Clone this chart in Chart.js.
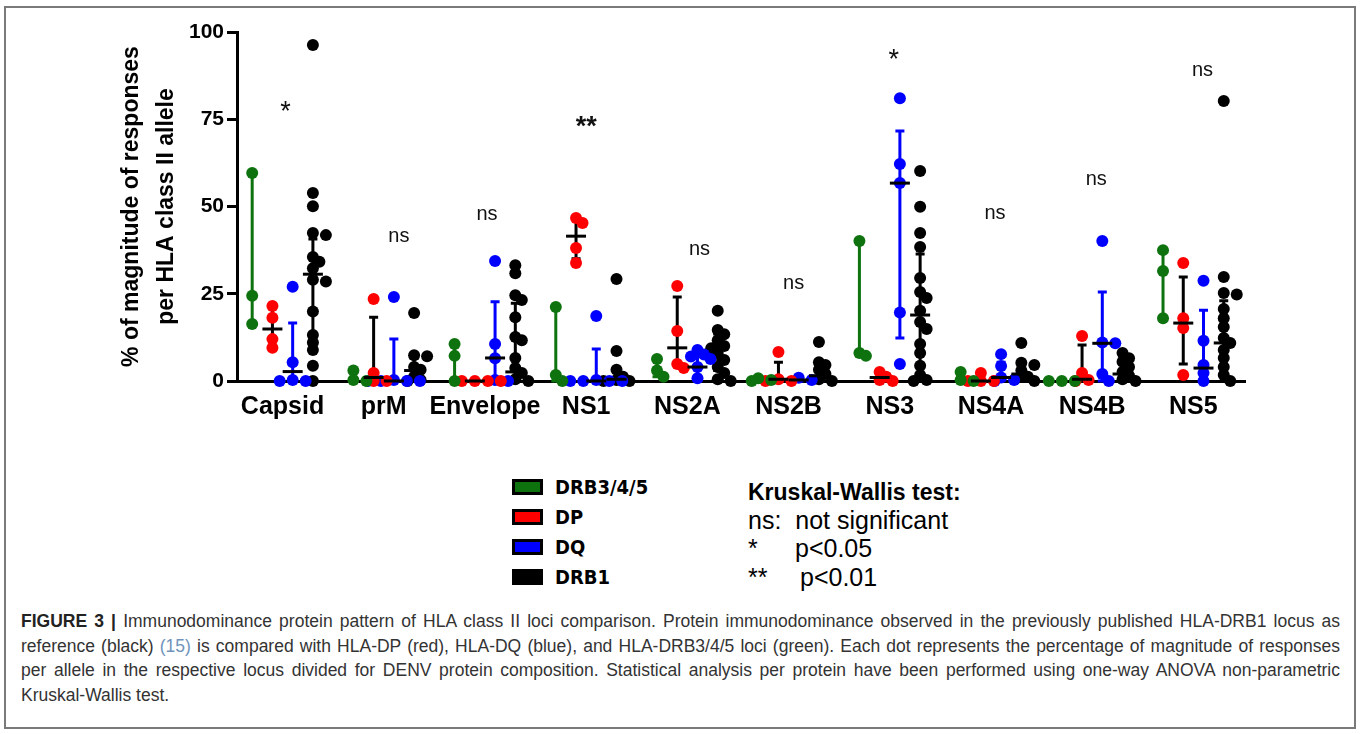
<!DOCTYPE html>
<html>
<head>
<meta charset="utf-8">
<script src="https://cdn.jsdelivr.net/npm/chart.js@4"></script>
<style>
  body { margin: 0; background: #fff; font-family: 'Liberation Sans', Arial, sans-serif; }
  #page { position: relative; width: 1360px; height: 734px; overflow: hidden; }
  #frame { position: absolute; left: 4px; top: 6px; width: 1352px; height: 723px; border: 2px solid #7a7a7a; box-sizing: border-box; }
  #c { position: absolute; left: 0; top: 0; }
  .lg { position: absolute; left: 512px; width: 31px; height: 16px; border: 3px solid #000; box-sizing: border-box; }
  .lgt { position: absolute; left: 555px; font-family: 'Liberation Sans Narrow', 'DejaVu Sans Condensed', sans-serif; font-weight: bold; font-size: 20px; line-height: 28px; color: #000; }
  .kw { position: absolute; left: 748px; font-size: 25px; line-height: 28px; color: #000; white-space: pre; }
  #cap { position: absolute; left: 21px; top: 609px; width: 1319px; font-size: 17.5px; line-height: 24.5px; color: #333; }
  #cap div { white-space: nowrap; text-align: justify; text-align-last: justify; }
  #cap div.last { text-align-last: left; }
</style>
</head>
<body>
<div id="page">
  <div id="frame"></div>
  <canvas id="c" width="1360" height="440"></canvas>

  <div class="lg" style="top:479px;background:#0e730e"></div>
  <div class="lgt" style="top:473px">DRB3/4/5</div>
  <div class="lg" style="top:509px;background:#ff0000"></div>
  <div class="lgt" style="top:503px">DP</div>
  <div class="lg" style="top:539px;background:#0000ff"></div>
  <div class="lgt" style="top:533px">DQ</div>
  <div class="lg" style="top:569px;background:#000"></div>
  <div class="lgt" style="top:563px">DRB1</div>

  <div class="kw" style="top:478px;font-weight:bold;font-size:23px">Kruskal-Wallis test:</div>
  <div class="kw" style="top:506px">ns:  not significant</div>
  <div class="kw" style="top:534px">*</div>
  <div class="kw" style="top:534px;left:795px">p&lt;0.05</div>
  <div class="kw" style="top:563px">**</div>
  <div class="kw" style="top:563px;left:800px">p&lt;0.01</div>

  <div id="cap">
    <div><b style="color:#222">FIGURE 3 |</b> Immunodominance protein pattern of HLA class II loci comparison. Protein immunodominance observed in the previously published HLA-DRB1 locus as</div>
    <div>reference (black) <span style="color:#6f93bb">(15)</span> is compared with HLA-DP (red), HLA-DQ (blue), and HLA-DRB3/4/5 loci (green). Each dot represents the percentage of magnitude of responses</div>
    <div>per allele in the respective locus divided for DENV protein composition. Statistical analysis per protein have been performed using one-way ANOVA non-parametric</div>
    <div class="last">Kruskal-Wallis test.</div>
  </div>
</div>
<script>
// categories and axis
const proteins = ['Capsid', 'prM', 'Envelope', 'NS1', 'NS2A', 'NS2B', 'NS3', 'NS4A', 'NS4B', 'NS5'];
const yTicks = [0, 25, 50, 75, 100];
const yTitle = ['% of magnitude of responses', 'per HLA class II allele'];

// % magnitude per allele, one list per protein
const drb345 = [[59.6, 24.4, 16.3], [3.0, 0.3, 0], [10.6, 7.2, 0], [21.2, 1.7, 0], [6.3, 3.0, 1.2],
  [0.8, 0.3, 0], [40.1, 8.0, 7.2], [2.6, 0.3, 0], [0, 0, 0], [37.5, 31.5, 18.0]];
const dp = [[21.5, 18.1, 12.0, 9.5], [23.5, 2.3, 0, 0], [0, 0, 0, 0], [46.7, 45.3, 38.1, 33.8], [27.2, 14.3, 4.9, 3.7],
  [8.3, 0.5, 0, 0], [2.6, 1.2, 0.3, 0], [2.3, 0, 0, 0], [12.9, 2.3, 0.3, 0], [33.8, 18.0, 15.2, 1.7]];
const dq = [[27.0, 5.4, 0.3, 0, 0], [24.1, 0.3, 0, 0, 0, 0], [34.4, 10.6, 6.5, 0.3, 0], [18.6, 0.3, 0, 0, 0, 0],
  [8.9, 7.6, 7.0, 6.3, 4.0, 0.8], [0.9, 0.3], [81.0, 62.2, 56.7, 19.6, 4.9], [7.7, 4.3, 1.0, 0.3, 0],
  [40.1, 11.0, 10.8, 2.0, 0], [28.7, 11.5, 4.6, 2.3, 0]];
const drb1 = [[96.3, 53.9, 50.1, 42.4, 41.8, 35.5, 34.2, 32.3, 29.0, 28.5, 19.9, 13.2, 11.0, 8.9, 4.4, 0],
  [19.5, 7.4, 7.1, 4.0, 3.2, 1.2, 0.3, 0],
  [33.2, 30.9, 24.6, 23.2, 18.3, 12.6, 11.7, 6.6, 3.7, 2.3, 0.5, 0],
  [29.2, 8.6, 3.2, 1.2, 0.3, 0, 0],
  [20.1, 14.6, 13.4, 11.7, 10.0, 9.4, 8.0, 6.0, 4.0, 2.3, 0.5, 0],
  [11.2, 5.4, 4.6, 3.2, 2.0, 0.5, 0],
  [60.2, 49.9, 42.4, 38.4, 29.5, 25.5, 23.8, 20.1, 16.9, 14.9, 10.6, 8.0, 4.4, 1.7, 0.3, 0],
  [10.9, 5.2, 4.6, 3.0, 1.2, 0.5, 0],
  [8.0, 6.5, 5.5, 4.0, 2.6, 1.5, 0.5, 0],
  [80.2, 29.8, 25.2, 24.8, 20.6, 18.0, 15.5, 12.3, 10.9, 8.9, 6.6, 4.0, 1.7, 0]];

// median with interquartile range, per protein
const drb345Med = [24.4, 0.3, 7.2, 1.7, 3.0, 0.3, 8.0, 0.3, 0, 31.5];
const drb345Q1 = [16.3, 0, 0, 0, 1.2, 0, 7.2, 0, 0, 18.0];
const drb345Q3 = [59.6, 3.0, 10.6, 21.2, 6.3, 0.8, 40.1, 2.6, 0, 37.5];
const dpMed = [14.9, 1.0, 0, 41.5, 9.5, 0.5, 1.0, 0, 0.5, 16.6];
const dpQ1 = [9.7, 0, 0, 35.0, 4.9, 0, 0, 0, 0, 4.9];
const dpQ3 = [20.9, 18.3, 0, 46.4, 24.1, 5.4, 2.3, 1.5, 10.3, 29.8];
const dqMed = [2.7, 0, 6.6, 0, 4.0, 0.3, 56.7, 1.0, 10.8, 3.7];
const dqQ1 = [0, 0, 0.3, 0, 1.0, 0, 12.3, 0.2, 0, 1.0];
const dqQ3 = [16.6, 12.0, 22.7, 9.2, 7.5, 0.9, 71.6, 5.4, 25.5, 20.3];
const drb1Med = [30.6, 3.0, 2.6, 0.5, 9.5, 1.5, 18.9, 2.0, 2.0, 10.9];
const drb1Q1 = [9.8, 0.5, 0.5, 0, 3.0, 0.2, 1.0, 0.3, 0.3, 2.0];
const drb1Q3 = [40.7, 6.5, 22.3, 2.5, 13.5, 4.5, 36.4, 4.6, 5.5, 23.0];

// Kruskal-Wallis labels
const sigText = ['*', 'ns', 'ns', '**', 'ns', 'ns', '*', 'ns', 'ns', 'ns'];
const sigX = [0.03, 1.15, 2.02, 3.0, 4.12, 5.05, 6.04, 7.04, 8.04, 9.09];
const sigY = [78.5, 41.3, 47.6, 74.2, 37.8, 27.8, 93.4, 47.9, 57.6, 89.1];

const loci = [
  {name: 'DRB3/4/5', vals: drb345, med: drb345Med, q1: drb345Q1, q3: drb345Q3, color: '#0e730e', bar: '#0e730e', mline: null, off: -0.3},
  {name: 'DP', vals: dp, med: dpMed, q1: dpQ1, q3: dpQ3, color: '#ff0000', bar: '#000', mline: '#000', off: -0.1},
  {name: 'DQ', vals: dq, med: dqMed, q1: dqQ1, q3: dqQ3, color: '#0000ff', bar: '#0000ff', mline: '#000', off: 0.1},
  {name: 'DRB1', vals: drb1, med: drb1Med, q1: drb1Q1, q3: drb1Q3, color: '#000', bar: '#000', mline: '#000', off: 0.3},
];

// simple beeswarm so overlapping dots spread sideways
const PX_X = 101.2, PX_Y = 3.49, MIN_D = 7, STEP = 6.5;
function swarm(vals, center) {
  const placed = [];
  [...vals].sort((a, b) => b - a).forEach(v => {
    for (let k = 0; k < 20; k++) {
      const o = (k % 2 ? 1 : -1) * Math.ceil(k / 2) * STEP;
      const hit = placed.some(p => Math.hypot(o - p.o, (v - p.v) * PX_Y) < MIN_D);
      if (!hit) { placed.push({v, o}); break; }
    }
  });
  return placed.map(p => ({x: center + p.o / PX_X, y: p.v}));
}

const errorBars = {
  id: 'errorBars',
  beforeDatasetsDraw(chart) {
    const {ctx, scales: {x, y}} = chart;
    ctx.save();
    ctx.lineWidth = 3;
    loci.forEach(l => proteins.forEach((p, i) => {
      const px = x.getPixelForValue(i + l.off);
      const t = y.getPixelForValue(l.q3[i]), b = y.getPixelForValue(l.q1[i]);
      ctx.strokeStyle = l.bar;
      ctx.beginPath();
      ctx.moveTo(px, t); ctx.lineTo(px, b);
      ctx.moveTo(px - 4.5, t); ctx.lineTo(px + 4.5, t);
      ctx.moveTo(px - 4.5, b); ctx.lineTo(px + 4.5, b);
      ctx.stroke();
    }));
    ctx.restore();
  },
  afterDatasetsDraw(chart) {
    const {ctx, scales: {x, y}} = chart;
    ctx.save();
    ctx.lineWidth = 3;
    loci.forEach(l => proteins.forEach((p, i) => {
      if (!l.mline) return;
      const px = x.getPixelForValue(i + l.off), py = y.getPixelForValue(l.med[i]);
      ctx.strokeStyle = l.mline;
      ctx.beginPath();
      ctx.moveTo(px - 10, py); ctx.lineTo(px + 10, py);
      ctx.stroke();
    }));
    // significance marks
    ctx.fillStyle = '#111';
    ctx.textAlign = 'center';
    ctx.textBaseline = 'middle';
    sigText.forEach((s, i) => {
      const star = s.includes('*');
      const size = star ? 27 : 20;
      ctx.font = (s === '**' ? 'bold ' : '') + size + "px 'Liberation Sans', Arial";
      ctx.fillText(s, x.getPixelForValue(sigX[i]), y.getPixelForValue(sigY[i]) + (star ? size * 0.22 : 0));
    });
    ctx.restore();
  }
};

new Chart(document.getElementById('c'), {
  type: 'scatter',
  data: {
    datasets: loci.map(l => ({
      label: l.name,
      data: l.vals.flatMap((vs, i) => swarm(vs, i + l.off)),
      backgroundColor: l.color,
      borderWidth: 0,
      pointRadius: 6,
      pointHoverRadius: 6,
      clip: false,
    }))
  },
  options: {
    responsive: false,
    animation: false,
    events: [],
    layout: {padding: {top: 32, right: 115, left: 0, bottom: 0}},
    plugins: {legend: {display: false}, tooltip: {enabled: false}},
    scales: {
      x: {
        type: 'linear', min: -0.45, max: 9.51,
        afterBuildTicks: s => { s.ticks = proteins.map((p, i) => ({value: i})); },
        afterFit: s => { s.height = 59; },
        grid: {display: false, drawTicks: false},
        border: {display: true, color: '#000', width: 3},
        ticks: {
          callback: v => proteins[v],
          autoSkip: false, maxRotation: 0, padding: 11,
          color: '#000',
          font: {family: "'Liberation Sans', Arial", size: 25, weight: 'bold'}
        }
      },
      y: {
        min: 0, max: 100,
        afterBuildTicks: s => { s.ticks = yTicks.map(v => ({value: v})); },
        afterFit: s => { s.width = 237; },
        grid: {drawOnChartArea: false, drawTicks: true, tickLength: 10, lineWidth: 3, color: '#000'},
        border: {display: true, color: '#000', width: 3},
        ticks: {
          padding: 3, color: '#000',
          font: {family: "'Liberation Sans', Arial", size: 21, weight: 'bold'}
        },
        title: {
          display: true, text: yTitle, color: '#000',
          padding: {top: 114, bottom: 0},
          font: {family: "'Liberation Sans', Arial", size: 23, weight: 'bold', lineHeight: 1.52}
        }
      }
    }
  },
  plugins: [errorBars]
});
</script>
</body>
</html>
